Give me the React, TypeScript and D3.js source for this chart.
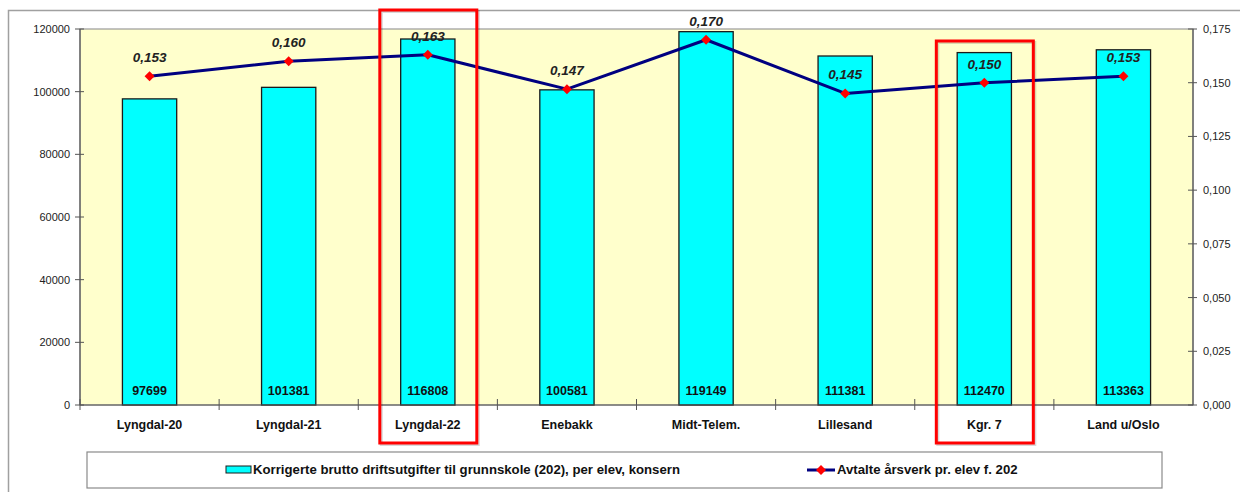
import React from 'react';
import * as d3 from 'd3';

const categories = ['Lyngdal-20', 'Lyngdal-21', 'Lyngdal-22', 'Enebakk', 'Midt-Telem.', 'Lillesand', 'Kgr. 7', 'Land u/Oslo'];
const costs = [97699, 101381, 116808, 100581, 119149, 111381, 112470, 113363];
const fte = [0.153, 0.160, 0.163, 0.147, 0.170, 0.145, 0.150, 0.153];
const leftTicks = [0, 20000, 40000, 60000, 80000, 100000, 120000];
const rightTicks = [0, 0.025, 0.05, 0.075, 0.1, 0.125, 0.15, 0.175];
const highlighted = ['Lyngdal-22', 'Kgr. 7'];
const barLegend = 'Korrigerte brutto driftsutgifter til grunnskole (202), per elev, konsern';
const lineLegend = 'Avtalte årsverk pr. elev f. 202';

const W = 1240, H = 492;
const plot = { left: 80, right: 1193, top: 29, bottom: 405 };
const FONT = 'Liberation Sans, Arial, sans-serif';

export default function App() {
  const x = d3.scaleBand<string>().domain(categories).range([plot.left, plot.right]).paddingInner(0.61).paddingOuter(0.305);
  const xo = d3.scaleBand<string>().domain(categories).range([plot.left, plot.right]);
  const yL = d3.scaleLinear().domain([0, 120000]).range([plot.bottom, plot.top]);
  const yR = d3.scaleLinear().domain([0, 0.175]).range([plot.bottom, plot.top]);
  const cx = (c: string) => (xo(c) as number) + xo.bandwidth() / 2;
  const line = d3.line<number>().x((_, i) => cx(categories[i])).y((d) => yR(d));
  const diamond = d3.symbol().type(d3.symbolSquare).size(50)();
  const fmtR = (v: number) => d3.format('.3f')(v).replace('.', ',');

  return (
    <svg width={W} height={H} style={{ position: 'absolute', left: 0, top: 0, background: '#fff' }} fontFamily={FONT}>
      {/* outer frame */}
      <rect x={8.5} y={10.5} width={W + 10} height={H + 10} fill="none" stroke="#a0a0a0" strokeWidth={1.5} />
      {/* plot area */}
      <rect x={plot.left} y={plot.top} width={plot.right - plot.left} height={plot.bottom - plot.top} fill="#FFFFCC" stroke="#9a9a9a" strokeWidth={1.2} />
      {/* bars */}
      {categories.map((c, i) => (
        <rect key={c} x={x(c)} y={yL(costs[i])} width={x.bandwidth()} height={plot.bottom - yL(costs[i])} fill="#00FFFF" stroke="#1a1a1a" strokeWidth={1.3} />
      ))}
      {/* bar value labels */}
      {categories.map((c, i) => (
        <text key={c} x={cx(c)} y={395} textAnchor="middle" fontSize={12.5} fontWeight="bold" fill="#111">{costs[i]}</text>
      ))}
      {/* left axis */}
      <line x1={plot.left} x2={plot.left} y1={plot.top} y2={plot.bottom} stroke="#555" strokeWidth={1.2} />
      {leftTicks.map((t) => (
        <g key={t}>
          <line x1={plot.left - 5} x2={plot.left + 4} y1={yL(t)} y2={yL(t)} stroke="#555" />
          <text x={70} y={yL(t) + 4} textAnchor="end" fontSize={11} fill="#222">{t}</text>
        </g>
      ))}
      {/* right axis */}
      <line x1={plot.right} x2={plot.right} y1={plot.top} y2={plot.bottom} stroke="#555" strokeWidth={1.2} />
      {rightTicks.map((t) => (
        <g key={t}>
          <line x1={plot.right - 5} x2={plot.right + 4} y1={yR(t)} y2={yR(t)} stroke="#555" />
          <text x={1203} y={yR(t) + 4} textAnchor="start" fontSize={11} fill="#222">{fmtR(t)}</text>
        </g>
      ))}
      {/* bottom axis */}
      <line x1={plot.left} x2={plot.right} y1={plot.bottom} y2={plot.bottom} stroke="#555" strokeWidth={1.2} />
      {categories.map((c) => (
        <line key={c} x1={xo(c)} x2={xo(c)} y1={plot.bottom - 6} y2={plot.bottom + 5} stroke="#555" />
      ))}
      {categories.map((c) => (
        <text key={c} x={cx(c)} y={429} textAnchor="middle" fontSize={12.5} fontWeight="bold" fill="#111">{c}</text>
      ))}
      {/* line series */}
      <path d={line(fte) || ''} fill="none" stroke="#000080" strokeWidth={3} strokeLinejoin="round" />
      {fte.map((v, i) => (
        <path key={i} d={diamond || ''} transform={`translate(${cx(categories[i])},${yR(v)}) rotate(45)`} fill="#FF0000" />
      ))}
      {fte.map((v, i) => (
        <text key={i} x={cx(categories[i])} y={yR(v) - 14} textAnchor="middle" fontSize={13.5} fontWeight="bold" fontStyle="italic" fill="#222">{fmtR(v)}</text>
      ))}
      {/* highlight boxes */}
      {highlighted.map((c, k) => (
        <g key={c}>
          <rect x={cx(c) - 48 + 1.5} y={(k === 0 ? 10 : 41) + 1.5} width={97} height={(k === 0 ? 433 : 402)} fill="none" stroke="#000" strokeOpacity={0.15} strokeWidth={3} />
          <rect x={cx(c) - 48} y={k === 0 ? 10 : 41} width={97} height={k === 0 ? 433 : 402} fill="none" stroke="#FF0000" strokeWidth={3} />
        </g>
      ))}
      {/* legend */}
      <rect x={87} y={452} width={1075} height={36} fill="#fff" stroke="#8a8a8a" strokeWidth={1.2} />
      <rect x={226} y={466} width={25} height={7} fill="#00FFFF" stroke="#1a1a1a" strokeWidth={1} />
      <text x={253} y={474} fontSize={13.2} fontWeight="bold" fill="#111">{barLegend}</text>
      <line x1={807} x2={835} y1={470} y2={470} stroke="#000080" strokeWidth={3} />
      <path d={diamond || ''} transform="translate(821,470) rotate(45)" fill="#FF0000" />
      <text x={837} y={474} fontSize={13.2} fontWeight="bold" fill="#111">{lineLegend}</text>
    </svg>
  );
}
